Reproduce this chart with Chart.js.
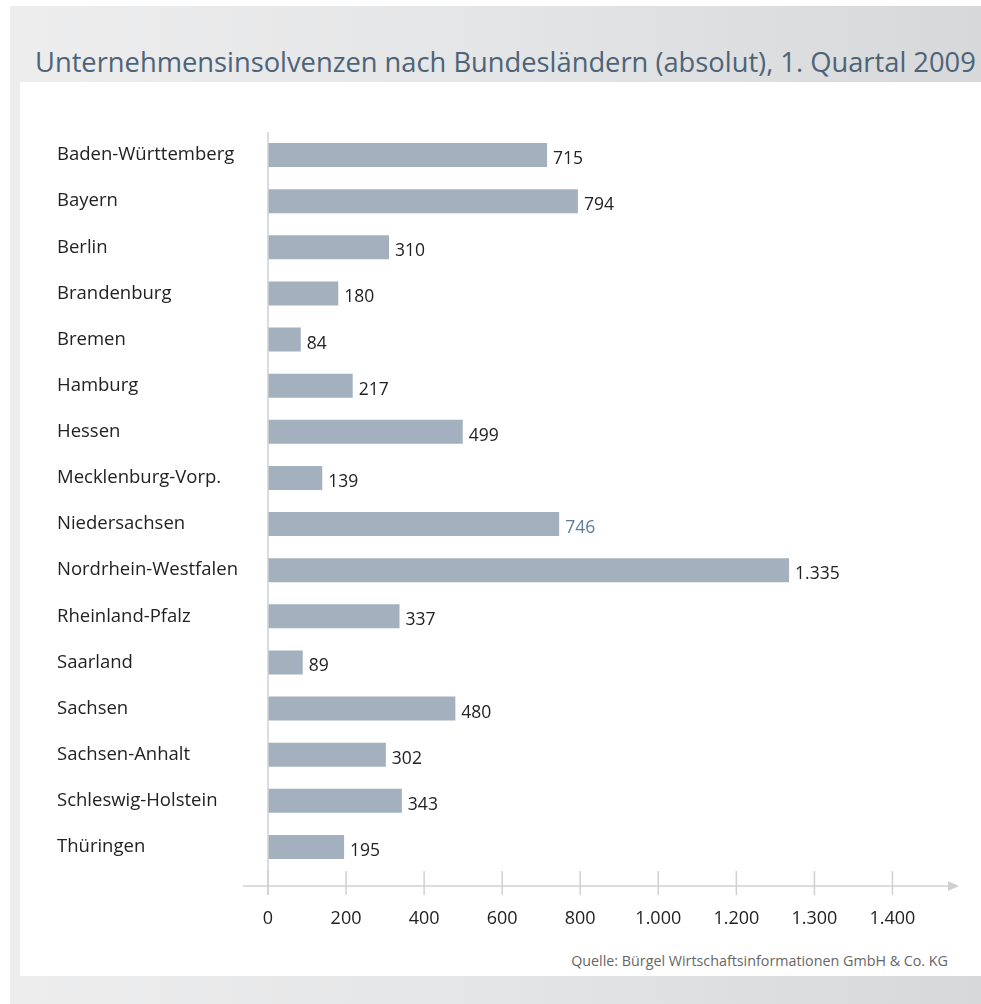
<!DOCTYPE html>
<html lang="de">
<head>
<meta charset="utf-8">
<title>Unternehmensinsolvenzen nach Bundesländern</title>
<script src="https://cdn.jsdelivr.net/npm/chart.js@4.4.1/dist/chart.umd.min.js"></script>
<style>
    body { margin: 0; background: #fff; width: 981px; height: 1004px; overflow: hidden; position: relative; font-family: "Open Sans", sans-serif; }
    .grau { position: absolute; left: 10px; top: 6px; right: 0; bottom: 0; background: linear-gradient(90deg, #ededee 0%, #e4e5e6 50%, #d6d8da 100%); }
    .panel { position: absolute; left: 20px; top: 82px; right: 0; height: 894px; background: #fff; }
    .titel { position: absolute; left: 35px; top: 43px; font-size: 27.3px; color: #4d6377; white-space: nowrap; }
    .quelle { position: absolute; right: 33px; top: 951px; font-size: 14.3px; color: #666; white-space: nowrap; }
    canvas { position: absolute; left: 0; top: 0; }
</style>
</head>
<body>
<div class="grau"></div>
<div class="panel"></div>
<div class="titel">Unternehmensinsolvenzen nach Bundesländern (absolut), 1. Quartal 2009</div>
<div class="quelle">Quelle: Bürgel Wirtschaftsinformationen GmbH &amp; Co. KG</div>
<canvas id="insolvenzChart" width="981" height="1004"></canvas>

<script>
const laender = ['Baden-Württemberg', 'Bayern', 'Berlin', 'Brandenburg', 'Bremen', 'Hamburg', 'Hessen',
    'Mecklenburg-Vorp.', 'Niedersachsen', 'Nordrhein-Westfalen', 'Rheinland-Pfalz', 'Saarland',
    'Sachsen', 'Sachsen-Anhalt', 'Schleswig-Holstein', 'Thüringen'];
const insolvenzen = [715, 794, 310, 180, 84, 217, 499, 139, 746, 1335, 337, 89, 480, 302, 343, 195];
const werteText = ['715', '794', '310', '180', '84', '217', '499', '139', '746', '1.335', '337', '89', '480', '302', '343', '195'];
const tickWerte = [0, 200, 400, 600, 800, 1000, 1200, 1400, 1600];
const tickLabels = ['0', '200', '400', '600', '800', '1.000', '1.200', '1.300', '1.400'];
const hervorgehoben = 'Niedersachsen';

// Achse mit Pfeil und Werte neben den Balken
const achsenPlugin = {
    id: 'achsen',
    afterDatasetsDraw(chart) {
        const ctx = chart.ctx;
        const area = chart.chartArea;
        const x = chart.scales.x;
        const yAchse = area.bottom + 16;

        ctx.save();
        ctx.strokeStyle = '#cfd0d2';
        ctx.lineWidth = 1.5;
        ctx.beginPath();
        ctx.moveTo(area.left - 25, yAchse);
        ctx.lineTo(area.right - 2, yAchse);
        ctx.stroke();

        // Pfeilspitze
        ctx.fillStyle = '#cfd0d2';
        ctx.beginPath();
        ctx.moveTo(area.right + 8, yAchse);
        ctx.lineTo(area.right - 3, yAchse - 5);
        ctx.lineTo(area.right - 3, yAchse + 5);
        ctx.closePath();
        ctx.fill();

        // senkrechte Linie bei 0
        ctx.beginPath();
        ctx.moveTo(x.getPixelForValue(0), area.top);
        ctx.lineTo(x.getPixelForValue(0), yAchse + 9);
        ctx.stroke();

        tickWerte.forEach(v => {
            const px = x.getPixelForValue(v);
            ctx.beginPath();
            ctx.moveTo(px, yAchse - 15);
            ctx.lineTo(px, yAchse + 9);
            ctx.stroke();
        });

        // Werte
        ctx.font = '17.5px "Open Sans"';
        ctx.textBaseline = 'middle';
        ctx.textAlign = 'left';
        const meta = chart.getDatasetMeta(0);
        meta.data.forEach((bar, i) => {
            ctx.fillStyle = laender[i] === hervorgehoben ? '#5f7c99' : '#222';
            ctx.fillText(werteText[i], bar.x + 6, bar.y + 4);
        });
        ctx.restore();
    }
};

function renderChart() {
    const ctx = document.getElementById('insolvenzChart').getContext('2d');
    new Chart(ctx, {
        type: 'bar',
        data: {
            labels: laender,
            datasets: [{
                data: insolvenzen,
                backgroundColor: '#a3b0bd',
                borderWidth: 0,
                barPercentage: 0.52,
                categoryPercentage: 1
            }]
        },
        plugins: [achsenPlugin],
        options: {
            indexAxis: 'y',
            responsive: false,
            animation: false,
            layout: { padding: { left: 57, top: 132, right: 30, bottom: 0 } },
            plugins: {
                legend: { display: false },
                tooltip: { enabled: false }
            },
            scales: {
                y: {
                    grid: { display: false },
                    border: { display: false },
                    afterFit(scale) { scale.width = 211; },
                    ticks: {
                        crossAlign: 'far',
                        color: '#222',
                        padding: 0,
                        font: { family: 'Open Sans', size: 18.5 }
                    }
                },
                x: {
                    min: 0,
                    max: 1750,
                    grid: { display: false },
                    border: { display: false },
                    afterFit(scale) { scale.height = 134; },
                    afterBuildTicks(scale) {
                        scale.ticks = tickWerte.map(v => ({ value: v }));
                    },
                    ticks: {
                        autoSkip: false,
                        padding: 30,
                        maxRotation: 0,
                        color: '#222',
                        font: { family: 'Open Sans', size: 18 },
                        callback: function (value) {
                            const i = tickWerte.indexOf(value);
                            return i >= 0 ? tickLabels[i] : null;
                        }
                    }
                }
            }
        }
    });
}

renderChart();
</script>
</body>
</html>
